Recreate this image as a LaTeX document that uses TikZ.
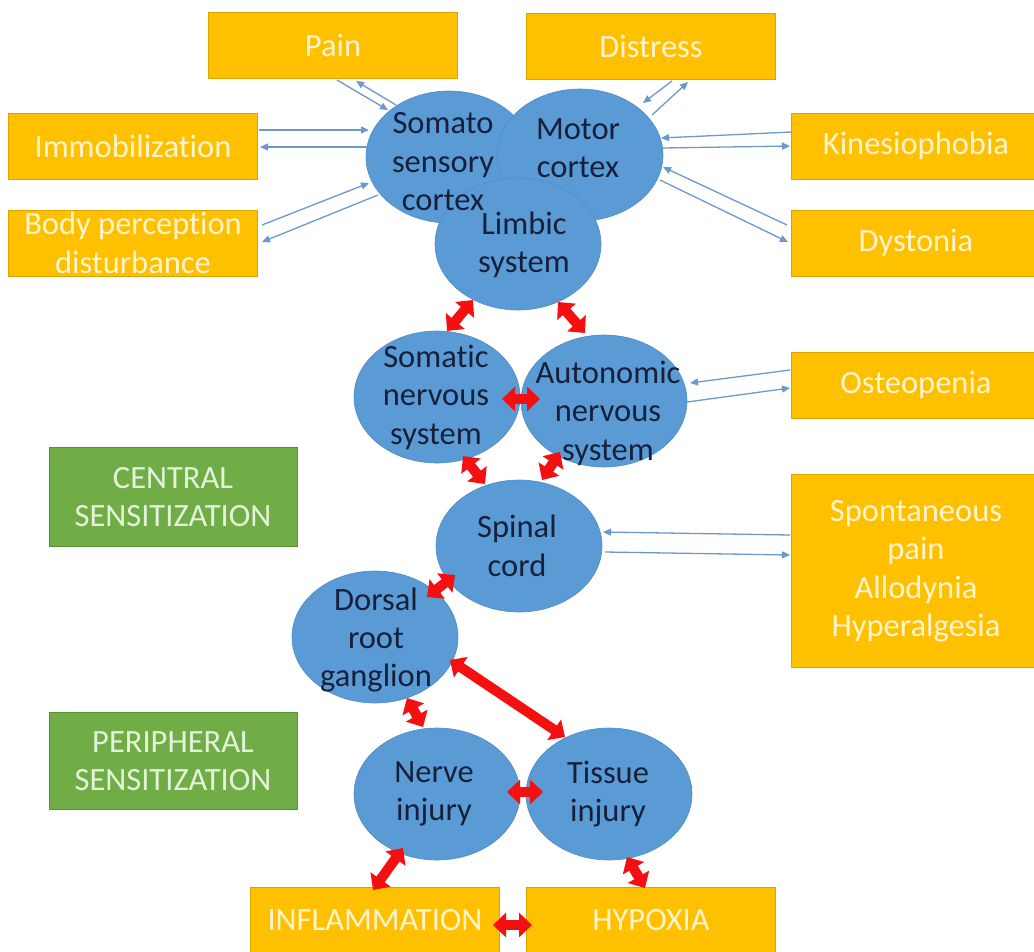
\documentclass[tikz,border=0pt]{standalone}
\usepackage{fontspec}
\setmainfont{Carlito}[Ligatures={NoCommon}]
\usetikzlibrary{shapes.geometric,arrows.meta,calc}
\definecolor{boxorange}{HTML}{FFC000}
\definecolor{boxedge}{HTML}{D9A300}
\definecolor{boxtext}{HTML}{FFF4D0}
\definecolor{greenfill}{HTML}{70AD47}
\definecolor{greenedge}{HTML}{5A8F38}
\definecolor{greentext}{HTML}{E4F2DA}
\definecolor{ellfill}{HTML}{5B9BD5}
\definecolor{elledge}{HTML}{4F8CC6}
\definecolor{elltext}{HTML}{17203A}
\definecolor{thinblue}{HTML}{6C98CF}
\definecolor{arrred}{HTML}{F41010}
\begin{document}
\begin{tikzpicture}[x=1pt,y=-1pt,
  bigfont/.style={font=\fontsize{32.5}{38.5}\selectfont},
  obox/.style={bigfont, draw=boxedge, line width=0.8pt, fill=boxorange, minimum width=249pt, minimum height=66pt, inner sep=0pt, text=boxtext, align=center},
  gbox/.style={bigfont, draw=greenedge, line width=0.8pt, fill=greenfill, minimum width=248pt, minimum height=98pt, inner sep=0pt, text=greentext, align=center},
  ell/.style={ellipse, fill=ellfill, draw=elledge, line width=0.6pt, minimum width=166pt, minimum height=132pt, inner sep=0pt},
  etext/.style={bigfont, text=elltext, align=center, inner sep=0pt},
  bluearr/.style={draw=thinblue, line width=1.3pt, -{Triangle[length=8pt,width=7pt]}},
  redarr/.style={draw=arrred, line width=10pt, {Triangle[length=13pt,width=24pt]}-{Triangle[length=13pt,width=24pt]}}
]
\useasboundingbox (0,0) rectangle (1034,951);
\clip (0,0) rectangle (1034,951);
\fill[white] (0,0) rectangle (1034,951);

% orange boxes
\node[obox] (pain) at (333,45) {Pain};
\node[obox] (distress) at (651,46) {Distress};
\node[obox] (immob) at (133,146) {Immobilization};
\node[obox] (body) at (133,243) {Body perception\\disturbance};
\node[obox] (kines) at (916,146) {Kinesiophobia};
\node[obox] (dyst) at (916,243) {Dystonia};
\node[obox] (osteo) at (916,385) {Osteopenia};
\node[obox, minimum height=193pt] (spont) at (916,571) {Spontaneous\\pain\\Allodynia\\Hyperalgesia};
\node[obox] (inflam) at (375,920) {INFLAMMATION};
\node[obox] (hypox) at (651,920) {HYPOXIA};

% green boxes
\node[gbox, minimum height=99pt] (central) at (173,497) {CENTRAL\\SENSITIZATION};
\node[gbox, minimum height=97pt] (periph) at (173,761) {PERIPHERAL\\SENSITIZATION};

% ellipses
\node[ell] (somato) at (449,157) {};
\node[ell] (motor) at (580,155) {};
\node[ell] (limbic) at (518,244) {};
\node[ell] (somatic) at (437,397) {};
\node[ell] (auto) at (604,401) {};
\node[ell] (spinal) at (519,546) {};
\node[ell] (dorsal) at (375,637) {};
\node[ell] (nerve) at (437,794) {};
\node[ell] (tissue) at (609,794) {};

% ellipse texts
\node[etext] (somatoT) at (443,162) {Somato\\sensory\\cortex};
\node[etext] (motorT) at (578,148) {Motor\\cortex};
\node[etext] (limbicT) at (524,245) {Limbic\\system};
\node[etext] (somaticT) at (436,397) {Somatic\\nervous\\system};
\node[etext] (autoT) at (608,413) {Autonomic\\nervous\\system};
\node[etext] (spinalT) at (517,546) {Spinal\\cord};
\node[etext] (dorsalT) at (376,640) {Dorsal\\root\\ganglion};
\node[etext] (nerveT) at (434,794) {Nerve\\injury};
\node[etext] (tissueT) at (608,794) {Tissue\\injury};

% thin blue arrows
\draw[bluearr] ($(pain)+(4,35)$) -- ($(somato)+(-61,-47)$);
\draw[bluearr] ($(somato)+(-53,-52)$) -- ($(pain)+(23,36)$);
\draw[bluearr] ($(immob)+(126,-16)$) -- ($(somato)+(-80,-27)$);
\draw[bluearr] ($(somato)+(-79,-10)$) -- ($(immob)+(127,1)$);
\draw[bluearr] ($(body)+(129,-18)$) -- ($(somato)+(-80,26)$);
\draw[bluearr] ($(somato)+(-71,38)$) -- ($(body)+(129,-1)$);
\draw[bluearr] ($(distress)+(21,35)$) -- ($(motor)+(63,-52)$);
\draw[bluearr] ($(motor)+(72,-40)$) -- ($(distress)+(37,36)$);
\draw[bluearr] ($(kines)+(-124,-14)$) -- ($(motor)+(81,-17)$);
\draw[bluearr] ($(motor)+(83,-7)$) -- ($(kines)+(-126,0)$);
\draw[bluearr] ($(dyst)+(-129,-18)$) -- ($(motor)+(83,12)$);
\draw[bluearr] ($(motor)+(80,25)$) -- ($(dyst)+(-128,-1)$);
\draw[bluearr] ($(osteo)+(-126,-15)$) -- ($(auto)+(86,-18)$);
\draw[bluearr] ($(auto)+(83,1)$) -- ($(osteo)+(-126,3)$);
\draw[bluearr] ($(spont)+(-126,-36)$) -- ($(spinal)+(84,-14)$);
\draw[bluearr] ($(spinal)+(86,6)$) -- ($(spont)+(-126,-16)$);

% red double arrows
\draw[redarr] ($(limbic)+(-45,56)$) -- ($(somatic)+(10,-66)$);
\draw[redarr] ($(limbic)+(40,58)$) -- ($(auto)+(-19,-68)$);
\draw[redarr] ($(somatic)+(65,2)$) -- ($(auto)+(-64,-2)$);
\draw[redarr] ($(somatic)+(26,59)$) -- ($(spinal)+(-34,-62)$);
\draw[redarr] ($(auto)+(-44,51)$) -- ($(spinal)+(23,-66)$);
\draw[redarr] ($(spinal)+(-64,29)$) -- ($(dorsal)+(52,-40)$);
\draw[redarr] ($(dorsal)+(75,23)$) -- ($(tissue)+(-44,-57)$);
\draw[redarr] ($(dorsal)+(32,61)$) -- ($(nerve)+(-14,-67)$);
\draw[redarr] ($(nerve)+(70,-2)$) -- ($(tissue)+(-66,-2)$);
\draw[redarr] ($(nerve)+(-34,54)$) -- ($(inflam)+(-2,-30)$);
\draw[redarr] ($(tissue)+(18,63)$) -- ($(hypox)+(-6,-32)$);
\draw[redarr] ($(inflam)+(118,5)$) -- ($(hypox)+(-119,5)$);
\end{tikzpicture}
\end{document}
